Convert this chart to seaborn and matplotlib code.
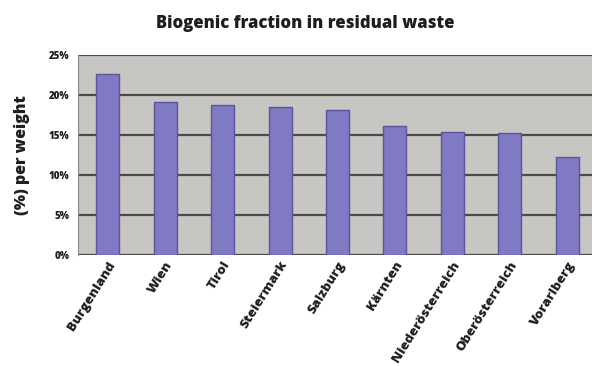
import matplotlib
matplotlib.use("Agg")
import matplotlib.pyplot as plt
import seaborn as sns
import pandas as pd

# Biogenic share of residual waste by Austrian province
provinces = ["Burgenland", "Wien", "Tirol", "Steiermark", "Salzburg",
             "Kärnten", "Niederösterreich", "Oberösterreich", "Vorarlberg"]
biogenic_pct = [22.6, 19.1, 18.7, 18.5, 18.1, 16.1, 15.4, 15.2, 12.2]
y_ticks = [0, 5, 10, 15, 20, 25]
y_tick_labels = ["0%", "5%", "10%", "15%", "20%", "25%"]

df = pd.DataFrame({"province": provinces, "share": biogenic_pct})

sns.set_theme(style="white")
plt.rcParams["font.family"] = ["Open Sans", "DejaVu Sans"]

W, H = 592, 366
fig = plt.figure(figsize=(W / 100, H / 100), dpi=100)
# plot area: left edge at 78 px, runs slightly past the right border
left, right, top, bottom = 78, 597, 55, 255
ax = fig.add_axes([left / W, 1 - bottom / H, (right - left) / W, (bottom - top) / H])

ax.set_facecolor("#c8c6c3")
sns.barplot(data=df, x="province", y="share", ax=ax, color="#807ac4",
            saturation=1, width=0.4, edgecolor="#5a549a", linewidth=1.0)

ax.set_ylim(0, 25)
ax.set_xlim(-0.52, 8.52)
ax.set_yticks(y_ticks)
ax.set_yticklabels(y_tick_labels, fontsize=7, fontweight="heavy", color="#1e1e1e")
ax.yaxis.grid(True, color="#4a4a4a", linewidth=1.6)
ax.set_axisbelow(True)
for s in ["top", "right", "bottom"]:
    ax.spines[s].set_visible(False)
ax.spines["left"].set_color("#888888")
ax.spines["left"].set_linewidth(0.8)
ax.tick_params(axis="y", length=0, pad=6)
ax.tick_params(axis="x", length=0, pad=3)

ax.set_xticks(range(len(provinces)))
ax.set_xticklabels(provinces, rotation=58, ha="right", rotation_mode="anchor",
                   fontsize=9.5, fontweight="heavy", color="#1e1e1e")
ax.set_xlabel("")
ax.set_ylabel("(%) per weight", fontsize=11.5, fontweight="heavy", color="#1e1e1e",
              labelpad=14)

fig.text(305 / W, 1 - 23 / H, "Biogenic fraction in residual waste",
         ha="center", va="center", fontsize=12, fontweight="heavy", color="#1e1e1e")

fig.savefig("out.png", dpi=100)
